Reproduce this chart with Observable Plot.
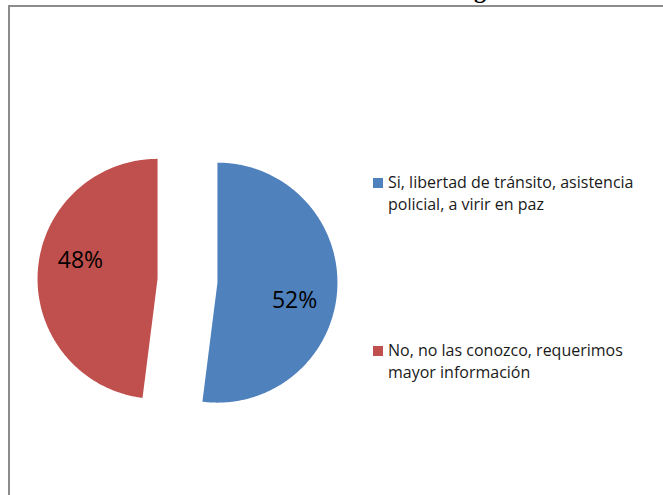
<!DOCTYPE html>
<html>
<head>
<meta charset="utf-8">
<script src="https://cdn.jsdelivr.net/npm/d3@7"></script>
<script src="https://cdn.jsdelivr.net/npm/@observablehq/plot@0.6"></script>
<style>
  html, body { margin: 0; padding: 0; background: #fff; }
  #wrap { position: relative; width: 663px; height: 495px; overflow: hidden; background: #fff; }
  #frame { position: absolute; left: 8px; top: 5px; width: 700px; height: 600px;
           border-left: 2px solid #8c8c8c; border-top: 2px solid #8c8c8c; box-sizing: border-box; }
  #titleg { position: absolute; left: 474px; top: -22px; font: bold 24px "Liberation Serif", serif; color: #000; line-height: 24px; }
  .leg { position: absolute; left: 373px; font: 16px "Open Sans", sans-serif; color: #1a1a1a; }
  .leg .sw { position: absolute; left: 0; width: 10px; height: 10px; }
  .leg .tx { position: absolute; left: 15px; top: 0; width: 262px; line-height: 22px; }
  #chart { position: absolute; left: 0; top: 0; }
</style>
</head>
<body>
<div id="wrap">
  <div id="chart"></div>
  <div id="frame"></div>
  <div id="titleg">g</div>
</div>
<script>
const categories = ["Si, libertad de tránsito, asistencia policial, a virir en paz", "No, no las conozco, requerimos mayor información"];
const values = [52, 48];
const labels = ["52%", "48%"];
const colors = ["#4F81BD", "#C0504D"];

// pie layout (angles from 12 o'clock clockwise)
const arcs = d3.pie().sort(null).value(d => d.value)(categories.map((c, i) => ({name: c, value: values[i], label: labels[i]})));
const explode = 0.25;
const poly = [];
const labelPts = [];
arcs.forEach(a => {
  const mid = (a.startAngle + a.endAngle) / 2;
  const ox = explode * Math.sin(mid), oy = explode * Math.cos(mid);
  poly.push({name: a.data.name, x: ox, y: oy});
  const n = Math.ceil((a.endAngle - a.startAngle) / (Math.PI / 360));
  for (let k = 0; k <= n; k++) {
    const t = a.startAngle + (a.endAngle - a.startAngle) * k / n;
    poly.push({name: a.data.name, x: ox + Math.sin(t), y: oy + Math.cos(t)});
  }
  poly.push({name: a.data.name, x: ox, y: oy});
  const la = mid + 9.5 * Math.PI / 180, lr = 0.66;
  labelPts.push({label: a.data.label, x: ox + lr * Math.sin(la), y: oy + lr * Math.cos(la)});
});

const W = 663, H = 495, cx = 187, cy = 280.25, R = 120;
const chart = Plot.plot({
  width: W, height: H, margin: 0,
  x: {domain: [-cx / R, (W - cx) / R], axis: null},
  y: {domain: [-(H - cy) / R, cy / R], axis: null},
  color: {domain: categories, range: colors},
  style: {background: "transparent", overflow: "visible"},
  marks: [
    Plot.line(poly, {x: "x", y: "y", z: "name", fill: "name", stroke: null, curve: "linear"}),
    Plot.text(labelPts, {x: "x", y: "y", text: "label", fontSize: 23, fill: "#000", fontFamily: "Open Sans"})
  ]
});
document.getElementById("chart").appendChild(chart);

// legend
const legTops = [171, 339];
categories.forEach((c, i) => {
  const d = document.createElement("div");
  d.className = "leg";
  d.style.top = legTops[i] + "px";
  const sw = document.createElement("div");
  sw.className = "sw";
  sw.style.background = colors[i];
  sw.style.top = "7px";
  const tx = document.createElement("div");
  tx.className = "tx";
  tx.textContent = c;
  d.appendChild(sw); d.appendChild(tx);
  document.getElementById("wrap").appendChild(d);
});
</script>
</body>
</html>
